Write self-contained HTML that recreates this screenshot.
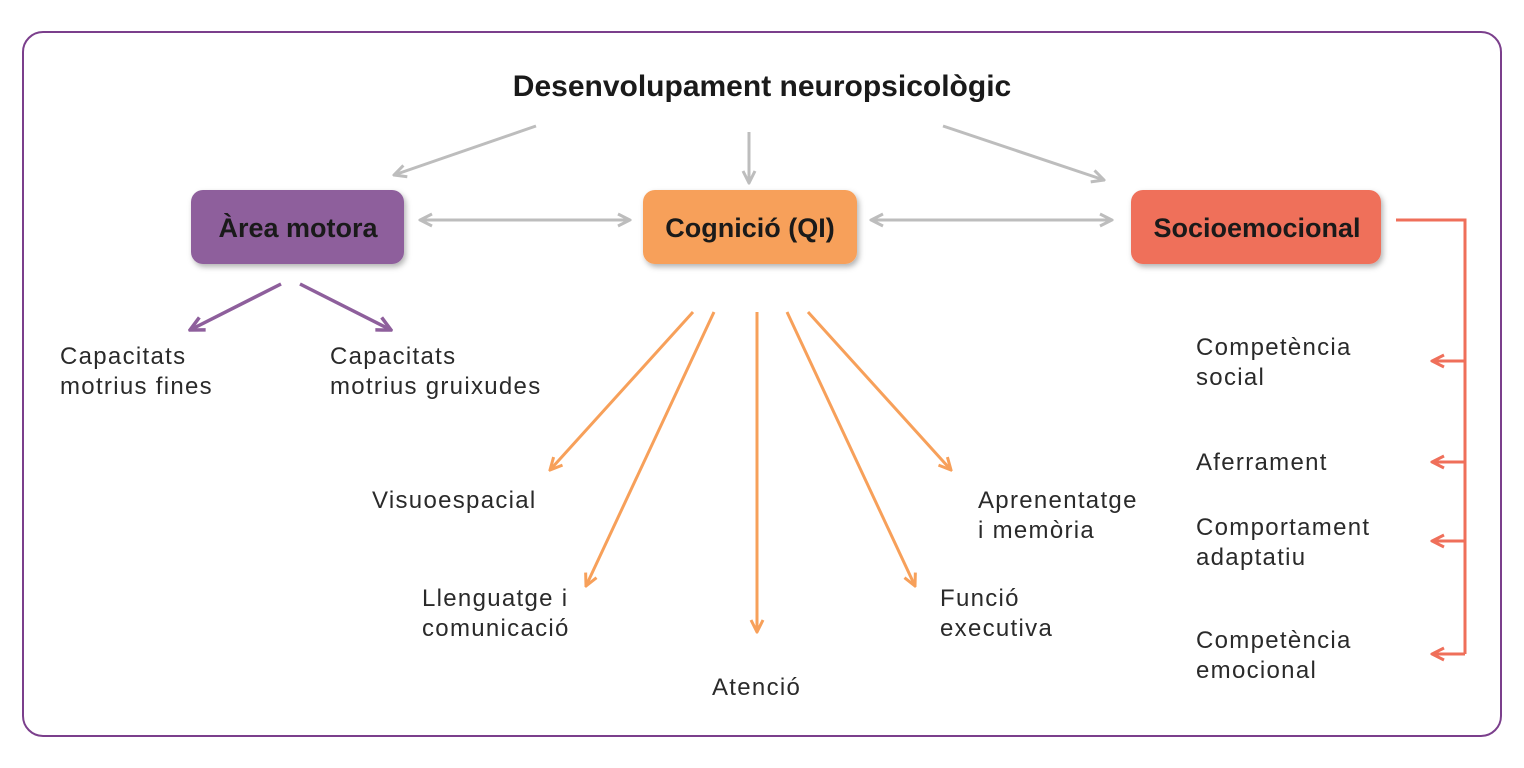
<!DOCTYPE html>
<html><head><meta charset="utf-8"><style>
body{margin:0;background:#fff;width:1524px;height:768px;overflow:hidden}
svg{display:block}
.t{font-family:"Liberation Sans","DejaVu Sans",sans-serif;font-size:24px;fill:#2a2a2a;letter-spacing:1.3px}
.b{font-family:"Liberation Sans",sans-serif;font-weight:bold;fill:#1a1a1a}
</style></head><body>
<svg width="1524" height="768" viewBox="0 0 1524 768">
<defs>
<marker id="mg" viewBox="0 0 10 10" refX="9" refY="5" markerWidth="5" markerHeight="5" orient="auto-start-reverse" markerUnits="strokeWidth"><path d="M1,1 L9,5 L1,9" fill="none" stroke="#bdbdbd" stroke-width="2"/></marker>
<marker id="mp" viewBox="0 0 10 10" refX="9" refY="5" markerWidth="5" markerHeight="5" orient="auto" markerUnits="strokeWidth"><path d="M1,1 L9,5 L1,9" fill="none" stroke="#8e5f9c" stroke-width="2"/></marker>
<marker id="mo" viewBox="0 0 10 10" refX="9" refY="5" markerWidth="5" markerHeight="5" orient="auto" markerUnits="strokeWidth"><path d="M1,1 L9,5 L1,9" fill="none" stroke="#f7a05a" stroke-width="2"/></marker>
<marker id="mr" viewBox="0 0 10 10" refX="9" refY="5" markerWidth="5" markerHeight="5" orient="auto" markerUnits="strokeWidth"><path d="M1,1 L9,5 L1,9" fill="none" stroke="#ef6f5a" stroke-width="2"/></marker>
<filter id="sh" x="-10%" y="-10%" width="130%" height="140%"><feDropShadow dx="2" dy="3" stdDeviation="3" flood-opacity="0.3"/></filter>
</defs>
<rect x="23" y="32" width="1478" height="704" rx="20" fill="none" stroke="#7b3f8c" stroke-width="2"/>
<text class="b" x="762" y="96" font-size="30" text-anchor="middle">Desenvolupament neuropsicològic</text>
<g stroke="#bdbdbd" stroke-width="3" fill="none">
<line x1="536" y1="126" x2="394" y2="175" marker-end="url(#mg)"/>
<line x1="749" y1="132" x2="749" y2="183" marker-end="url(#mg)"/>
<line x1="943" y1="126" x2="1104" y2="180" marker-end="url(#mg)"/>
<line x1="420" y1="220" x2="630" y2="220" marker-start="url(#mg)" marker-end="url(#mg)"/>
<line x1="871" y1="220" x2="1112" y2="220" marker-start="url(#mg)" marker-end="url(#mg)"/>
</g>
<rect x="191" y="190" width="213" height="74" rx="12" fill="#8e5f9c" filter="url(#sh)"/>
<rect x="643" y="190" width="214" height="74" rx="12" fill="#f7a05a" filter="url(#sh)"/>
<rect x="1131" y="190" width="250" height="74" rx="12" fill="#ef6f5a" filter="url(#sh)"/>
<text class="b" x="298" y="237" font-size="27" text-anchor="middle">Àrea motora</text>
<text class="b" x="750" y="237" font-size="27" text-anchor="middle">Cognició (QI)</text>
<text class="b" x="1257" y="237" font-size="27" text-anchor="middle">Socioemocional</text>
<g stroke="#8e5f9c" stroke-width="3.5" fill="none">
<line x1="281" y1="284" x2="190" y2="330" marker-end="url(#mp)"/>
<line x1="300" y1="284" x2="391" y2="330" marker-end="url(#mp)"/>
</g>
<g stroke="#f7a05a" stroke-width="3" fill="none">
<line x1="693" y1="312" x2="550" y2="470" marker-end="url(#mo)"/>
<line x1="714" y1="312" x2="586" y2="586" marker-end="url(#mo)"/>
<line x1="757" y1="312" x2="757" y2="632" marker-end="url(#mo)"/>
<line x1="787" y1="312" x2="915" y2="586" marker-end="url(#mo)"/>
<line x1="808" y1="312" x2="951" y2="470" marker-end="url(#mo)"/>
</g>
<g stroke="#ef6f5a" stroke-width="3" fill="none">
<polyline points="1396,220 1465,220 1465,654"/>
<line x1="1465" y1="361" x2="1432" y2="361" marker-end="url(#mr)"/>
<line x1="1465" y1="462" x2="1432" y2="462" marker-end="url(#mr)"/>
<line x1="1465" y1="541" x2="1432" y2="541" marker-end="url(#mr)"/>
<line x1="1465" y1="654" x2="1432" y2="654" marker-end="url(#mr)"/>
</g>
<g class="t">
<text x="60" y="364">Capacitats</text><text x="60" y="394">motrius fines</text>
<text x="330" y="364">Capacitats</text><text x="330" y="394">motrius gruixudes</text>
<text x="372" y="508">Visuoespacial</text>
<text x="422" y="606">Llenguatge i</text><text x="422" y="636">comunicació</text>
<text x="712" y="695">Atenció</text>
<text x="940" y="606">Funció</text><text x="940" y="636">executiva</text>
<text x="978" y="508">Aprenentatge</text><text x="978" y="538">i memòria</text>
<text x="1196" y="355">Competència</text><text x="1196" y="385">social</text>
<text x="1196" y="470">Aferrament</text>
<text x="1196" y="535">Comportament</text><text x="1196" y="565">adaptatiu</text>
<text x="1196" y="648">Competència</text><text x="1196" y="678">emocional</text>
</g>
</svg>
</body></html>
